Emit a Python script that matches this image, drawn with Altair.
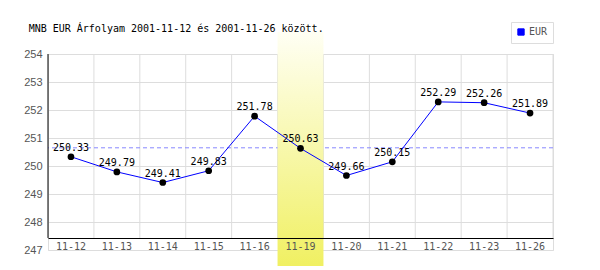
import altair as alt
import pandas as pd

dates = ["11-12", "11-13", "11-14", "11-15", "11-16", "11-19", "11-20", "11-21", "11-22", "11-23", "11-26"]
values = [250.33, 249.79, 249.41, 249.83, 251.78, 250.63, 249.66, 250.15, 252.29, 252.26, 251.89]
series_name = "EUR"
average_value = 250.65
y_ticks = [247, 248, 249, 250, 251, 252, 253, 254]
y_min, y_max = 247, 254
axis_floor = 247.43
highlight_date = "11-19"
highlight_top = 254.79
highlight_bottom = 246.43
title_text = "MNB EUR Árfolyam 2001-11-12 és 2001-11-26 között."

MONO = "DejaVu Sans Mono"

df = pd.DataFrame({"date": dates, "value": values, "series": series_name})
df["label"] = [f"{v:.2f}" for v in values]
hl = pd.DataFrame({"date": [highlight_date], "top": [highlight_top], "bottom": [highlight_bottom]})
avg = pd.DataFrame({"avg": [average_value]})
inner_grid = pd.DataFrame({"date": dates[1:]})
first_col = pd.DataFrame({"date": dates[:1]})
last_col = pd.DataFrame({"date": dates[-1:]})

xscale = alt.Scale(domain=dates, paddingInner=0, paddingOuter=0)
yscale = alt.Scale(domain=[y_min, y_max], nice=False, zero=False)

x_axis = alt.Axis(
    ticks=False, labelAngle=0, offset=-12, domainColor="#000000", grid=False,
    labelFont=MONO, labelFontSize=10, labelColor="#555555", labelPadding=3, zindex=1,
)
y_axis = alt.Axis(
    values=y_ticks, ticks=False, grid=True, gridColor="#dddddd", domain=False,
    labelOverlap=False, labelFont="Liberation Sans", labelFontSize=11, labelColor="#555555",
    labelPadding=6, zindex=0,
)

x_enc = alt.X("date:N", scale=xscale, sort=dates, title=None, axis=x_axis)
y_enc = alt.Y("value:Q", scale=yscale, title=None, axis=y_axis)


def vrule(data, band_pos, color):
    return alt.Chart(data).mark_rule(color=color, strokeWidth=1).encode(
        x=alt.X("date:N", scale=xscale, sort=dates, title=None, axis=x_axis, bandPosition=band_pos),
        y=alt.Y(datum=axis_floor, scale=yscale, title=None, axis=y_axis),
        y2=alt.Y2(datum=y_max),
    )


grid_inner = vrule(inner_grid, 0, "#dddddd")
grid_last = vrule(last_col, 1, "#dddddd")

avg_rule = alt.Chart(avg).mark_rule(color="#8888ff", strokeDash=[4, 3], strokeWidth=1).encode(
    y=alt.Y("avg:Q", scale=yscale, title=None, axis=y_axis)
)

band = alt.Chart(hl).mark_rect(
    clip=False,
    color=alt.Gradient(
        gradient="linear",
        stops=[alt.GradientStop(color="#fffff4", offset=0), alt.GradientStop(color="#f0f062", offset=1)],
        x1=0, x2=0, y1=0, y2=1,
    ),
).encode(
    x=x_enc,
    y=alt.Y("top:Q", scale=yscale, title=None, axis=y_axis),
    y2="bottom:Q",
)

y_domain_line = vrule(first_col, 0, "#000000")

line = alt.Chart(df).mark_line(strokeWidth=1).encode(
    x=x_enc,
    y=y_enc,
    color=alt.Color(
        "series:N",
        scale=alt.Scale(domain=[series_name], range=["#0000ff"]),
        legend=alt.Legend(
            title=None, orient="none", legendX=463, legendY=-32, symbolType="square",
            symbolFillColor="#0000ff", symbolStrokeColor="#444444", symbolStrokeWidth=1,
            symbolSize=40, strokeColor="#dddddd", padding=5, labelFont=MONO, labelFontSize=10,
            labelColor="#555555", labelOffset=3,
        ),
    ),
)

points = alt.Chart(df).mark_circle(color="#000000", size=45, opacity=1).encode(x=x_enc, y=y_enc)

labels = alt.Chart(df).mark_text(font=MONO, fontSize=10, color="#000000", dy=-6, baseline="alphabetic").encode(
    x=x_enc,
    y=y_enc,
    text="label:N",
)

chart = (
    alt.layer(grid_inner, grid_last, avg_rule, band, y_domain_line, line, points, labels)
    .properties(
        width=505,
        height=196,
        autosize=alt.AutoSizeParams(type="none"),
        padding={"left": 48, "top": 54, "right": 47, "bottom": 20},
        title=alt.TitleParams(
            title_text, anchor="start", dx=5, offset=-12, font=MONO, fontSize=10,
            fontWeight="normal", color="#000000",
        ),
    )
    .configure_view(stroke=None)
    .configure(background="#ffffff")
)

chart.save("out.html", embed_options={"renderer": "svg", "actions": False})
